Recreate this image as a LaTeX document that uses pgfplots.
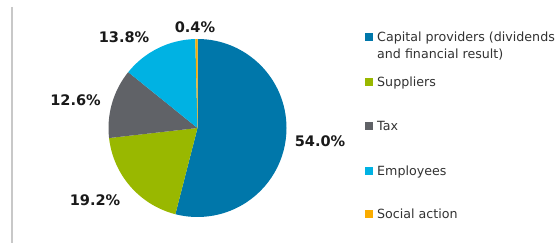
\documentclass[border=0pt]{standalone}
\usepackage{pgfplots}
\pgfplotsset{compat=1.18}
\usepackage{pgfplotstable}
\usepackage{fontspec}
\setmainfont{DejaVu Sans}
\definecolor{capblue}{RGB}{0,119,170}
\definecolor{supgreen}{RGB}{153,184,0}
\definecolor{taxgray}{RGB}{96,98,103}
\definecolor{empcyan}{RGB}{0,178,227}
\definecolor{socorange}{RGB}{250,172,0}
\definecolor{txt}{RGB}{50,50,50}
\definecolor{labtxt}{RGB}{25,25,25}
\definecolor{rulegray}{RGB}{200,200,200}

\pgfplotstableread[col sep=comma]{
value,color
54.0,capblue
19.2,supgreen
12.6,taxgray
13.8,empcyan
0.4,socorange
}\piedata

\begin{document}
\begin{tikzpicture}[
  lab/.style={font=\fontsize{14.6}{16}\selectfont\bfseries, text=labtxt, inner sep=0pt, anchor=center},
  leg/.style={font=\fontsize{12.7}{17.3}\selectfont, text=txt, inner sep=0pt, anchor=base west}]
\useasboundingbox (0,0) rectangle (555bp,243bp);
\clip (0,0) rectangle (555bp,243bp);
\begin{axis}[
  at={(0,0)}, anchor=south west,
  x=1bp, y=1bp,
  xmin=0, xmax=555, ymin=0, ymax=243,
  hide axis, clip=false,
]
% left rule
\draw[color=rulegray, line width=1.6bp] (axis cs:11.7,236) -- (axis cs:11.7,0);
% pie slices
\pgfplotstablegetrowsof{\piedata}
\pgfmathtruncatemacro\N{\pgfplotsretval-1}
\xdef\cum{90}
\pgfplotsinvokeforeach{0,...,\N}{
  \pgfplotstablegetelem{#1}{value}\of\piedata \let\v\pgfplotsretval
  \pgfplotstablegetelem{#1}{color}\of\piedata \let\c\pgfplotsretval
  \pgfmathsetmacro\endang{\cum-3.6*\v}
  \edef\temp{\noexpand\fill[\c] (axis cs:197.5,115) -- ++(\cum:89bp) arc[start angle=\cum, end angle=\endang, radius=89bp] -- cycle;}
  \temp
  \xdef\cum{\endang}
}
% value labels
\node[lab] at (axis cs:320,102) {54.0\%};
\node[lab] at (axis cs:95,42.5) {19.2\%};
\node[lab] at (axis cs:75.5,142.5) {12.6\%};
\node[lab] at (axis cs:124,206) {13.8\%};
\node[lab] at (axis cs:195,216) {0.4\%};
% legend
\fill[capblue]   (axis cs:364.5,201.5) rectangle (axis cs:373,210);
\node[leg] at (axis cs:377,201.5) {Capital providers (dividends};
\node[leg] at (axis cs:377,184.2) {and financial result)};
\fill[supgreen]  (axis cs:364.5,156.5) rectangle (axis cs:373,165);
\node[leg] at (axis cs:377,156.5) {Suppliers};
\fill[taxgray]   (axis cs:364.5,112.5) rectangle (axis cs:373,121);
\node[leg] at (axis cs:377,112.5) {Tax};
\fill[empcyan]   (axis cs:364.5,67.5) rectangle (axis cs:373,76);
\node[leg] at (axis cs:377,67.5) {Employees};
\fill[socorange] (axis cs:364.5,24.5) rectangle (axis cs:373,33);
\node[leg] at (axis cs:377,24.5) {Social action};
\end{axis}
\end{tikzpicture}
\end{document}
